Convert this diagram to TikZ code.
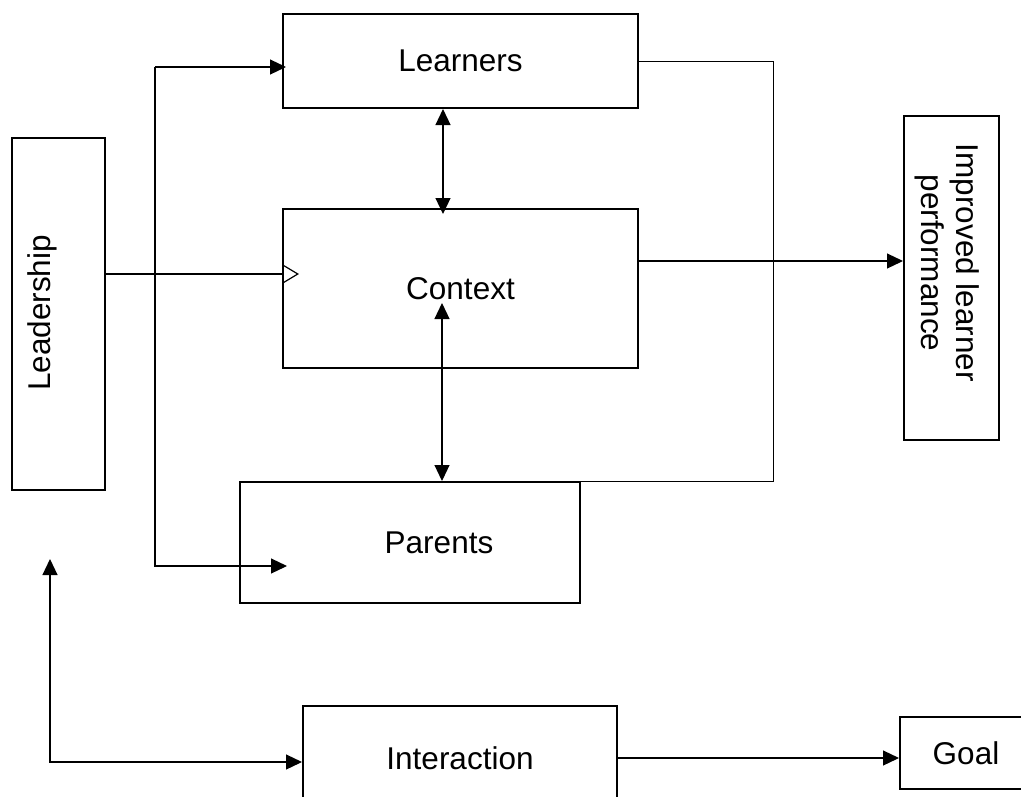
\documentclass[tikz,border=0pt]{standalone}
\usepackage{fontspec}
\setmainfont{Liberation Sans}
\usepackage{tikz}
\usetikzlibrary{arrows.meta}

\tikzset{
    box/.style={draw, line width=2pt, inner sep=0pt, font=\fontsize{31.5}{35}\selectfont},
    txt/.style={inner sep=0pt, align=center, font=\fontsize{31.5}{35}\selectfont},
    conn/.style={line width=1.2pt, -{Triangle[length=16pt, width=15pt]}},
    both/.style={line width=1.2pt, {Triangle[length=16pt, width=15pt]}-{Triangle[length=16pt, width=15pt]}}
}

\begin{document}
\begin{tikzpicture}[x=1pt, y=-1pt]
            \useasboundingbox (0, 0) rectangle (1021, 796);
            \clip (0, 0) rectangle (1021, 796);
            % boxes
            \node[box, minimum width=355, minimum height=94] (learners) at (460.5, 61) {Learners};
            \node[box, minimum width=355, minimum height=159] (context) at (460.5, 288.5) {Context};
            \node[box, minimum width=340, minimum height=121] (parents) at (410, 542.5) {};
            \node[txt] (parentstxt) at (439, 543) {Parents};
            \node[box, minimum width=93, minimum height=352] (lead) at (58.5, 314) {};
            \node[txt, rotate=90] (leadtxt) at (42, 313) {Leadership};
            \node[box, minimum width=95, minimum height=324] (improved) at (951.5, 278) {};
            \node[txt, rotate=-90] (improvedtxt) at (947, 263) {Improved learner\\performance};
            \node[box, minimum width=314, minimum height=104] (interaction) at (460, 758) {Interaction};
            \node[box, minimum width=132, minimum height=72] (goal) at (966, 753) {Goal};
            % connectors
            \coordinate (ltop) at (155, 67);
            \coordinate (lbot) at (155, 566);
            \coordinate (lmid) at (155, 274);
            \coordinate (rb) at (773, 61);
            \coordinate (cim) at ([yshift=27.5pt]context.east);
            \coordinate (cp) at ([xshift=-18.5pt, yshift=-14.5pt]context.center);
            \coordinate (lu) at (50, 559);
            \coordinate (ia) at (50, 762);
            \draw[conn] (ltop) -- ([xshift=4pt]learners.west |- ltop);
            \draw[conn] (ltop) -- (lbot) -- ([xshift=48pt]parents.west |- lbot);
            \draw[line width=1.2pt, -{Triangle[open, length=17pt, width=20pt, line width=1.2pt]}] (lead.east |- lmid) -- ([xshift=17pt]context.west |- lmid);
            \draw[both] ([xshift=-17.5pt]learners.south) -- ([xshift=-17.5pt, yshift=-6pt]context.north);
            \draw[both] (cp) -- (cp |- parents.north);
            \draw[line width=1pt] (learners.east) -- (rb) |- (parents.north east);
            \draw[conn] (cim) -- (cim -| improved.west);
            \draw[both] (lu) |- (interaction.west |- ia);
            \draw[conn] (interaction.east) -- (interaction.east -| goal.west);
        \end{tikzpicture}
\end{document}
